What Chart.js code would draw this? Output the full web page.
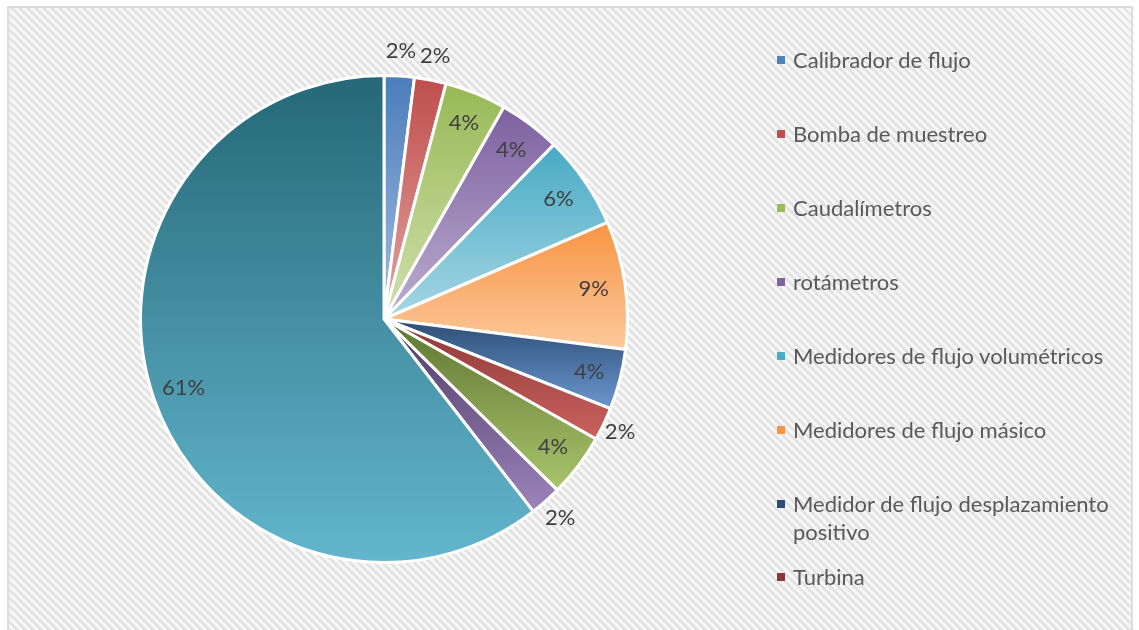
<!DOCTYPE html>
<html>
<head>
<meta charset="utf-8">
<script src="https://cdn.jsdelivr.net/npm/chart.js@4.4.1/dist/chart.umd.min.js"></script>
<style>
  html, body { margin: 0; padding: 0; background: #fff; }
  #wrap { position: relative; width: 1139px; height: 630px; overflow: hidden; }
  #frame {
    position: absolute; left: 7px; top: 6px; width: 1126px; height: 640px;
    border: 2px solid #dcdcdc; box-sizing: border-box;
    background: repeating-linear-gradient(45deg, #f7f7f7 0px, #f7f7f7 2.9px, #e3e3e3 2.9px, #e3e3e3 5.66px);
  }
  #chart { position: absolute; left: 0; top: 0; }
  #legend {
    position: absolute; left: 776px; top: 46px; width: 345px;
    margin: 0; padding: 0; list-style: none;
    font-family: Lato, sans-serif; font-size: 22px; line-height: 28px; color: #595959;
  }
  #legend li { position: relative; padding-left: 17px; margin-top: 46px; }
  #legend li:first-child { margin-top: 0; }
  #legend li.last { margin-top: 17px; }
  #legend li span {
    position: absolute; left: 1px; top: 10px; width: 8px; height: 8px;
  }
</style>
</head>
<body>
<div id="wrap">
  <div id="frame"></div>
  <canvas id="chart" width="1139" height="630"></canvas>
  <ul id="legend"></ul>
</div>
<script>
const categories = [
  'Calibrador de flujo',
  'Bomba de muestreo',
  'Caudalímetros',
  'rotámetros',
  'Medidores de flujo volumétricos',
  'Medidores de flujo másico',
  'Medidor de flujo desplazamiento positivo',
  'Turbina',
  '',
  '',
  ''
];
// share of each category in percent
const shares = [2.0, 2.1, 4.1, 4.1, 6.2, 8.5, 4.0, 2.2, 4.2, 2.1, 60.5];
// gradient colours per slice, top of slice -> bottom of slice
const topColors = ['#4a7dbb', '#bf4e4b', '#98b955', '#7d61a0', '#47aac4', '#f79443', '#2c4d75', '#8c3836', '#5f7530', '#4d3b62', '#256878'];
const bottomColors = ['#a4bde0', '#e3a5a3', '#d0e0ae', '#bcaed0', '#a5d6e4', '#fcc99c', '#6b97cf', '#cb625e', '#a9c56d', '#9c84bc', '#63b6cd'];
const legendColors = ['#4f81bd', '#c0504d', '#9bbb59', '#8064a2', '#4bacc6', '#f79646', '#2c4d75', '#8c3836'];
const legendCount = 8;

// build the legend (Excel cut it off after eight entries)
const legendEl = document.getElementById('legend');
for (let i = 0; i < legendCount; i++) {
  const li = document.createElement('li');
  if (i === legendCount - 1) li.className = 'last';
  const box = document.createElement('span');
  box.style.background = legendColors[i];
  li.appendChild(box);
  li.appendChild(document.createTextNode(categories[i]));
  legendEl.appendChild(li);
}

// vertical gradient over each slice's own bounding box
const sliceGradients = {
  id: 'sliceGradients',
  beforeDatasetsDraw(chart) {
    const ctx = chart.ctx;
    const meta = chart.getDatasetMeta(0);
    meta.data.forEach((arc, i) => {
      const r = arc.outerRadius;
      const ys = [arc.y, arc.y + Math.sin(arc.startAngle) * r, arc.y + Math.sin(arc.endAngle) * r];
      // does the arc pass straight up or straight down?
      for (let k = -1; k <= 2; k++) {
        const a = -Math.PI / 2 + k * Math.PI;
        if (a > arc.startAngle && a < arc.endAngle) ys.push(arc.y + Math.sin(a) * r);
      }
      const y0 = Math.min(...ys);
      const y1 = Math.max(...ys);
      const g = ctx.createLinearGradient(0, y0, 0, y1);
      g.addColorStop(0, topColors[i]);
      g.addColorStop(1, bottomColors[i]);
      arc.options.backgroundColor = g;
    });
  }
};

// percentage labels, small slices go outside
const percentLabels = {
  id: 'percentLabels',
  afterDatasetsDraw(chart) {
    const ctx = chart.ctx;
    const meta = chart.getDatasetMeta(0);
    ctx.save();
    ctx.font = '22px Lato, sans-serif';
    ctx.fillStyle = '#404040';
    ctx.textAlign = 'center';
    ctx.textBaseline = 'middle';
    meta.data.forEach((arc, i) => {
      const mid = (arc.startAngle + arc.endAngle) / 2;
      const R = arc.outerRadius;
      let r;
      if (shares[i] < 3) {
        r = R + 13 + 12 * Math.abs(Math.sin(mid));
      } else {
        r = R * 0.87;
      }
      const x = arc.x + Math.cos(mid) * r;
      const y = arc.y + Math.sin(mid) * r;
      ctx.fillText(Math.round(shares[i]) + '%', x, y);
    });
    ctx.restore();
  }
};

new Chart(document.getElementById('chart'), {
  type: 'pie',
  data: {
    labels: categories,
    datasets: [{
      data: shares,
      backgroundColor: topColors,
      borderColor: '#ffffff',
      borderWidth: 3
    }]
  },
  options: {
    responsive: false,
    animation: false,
    layout: {
      padding: { left: 139, right: 510, top: 74, bottom: 66 }
    },
    plugins: {
      legend: { display: false },
      tooltip: { enabled: false }
    }
  },
  plugins: [sliceGradients, percentLabels]
});
</script>
</body>
</html>
